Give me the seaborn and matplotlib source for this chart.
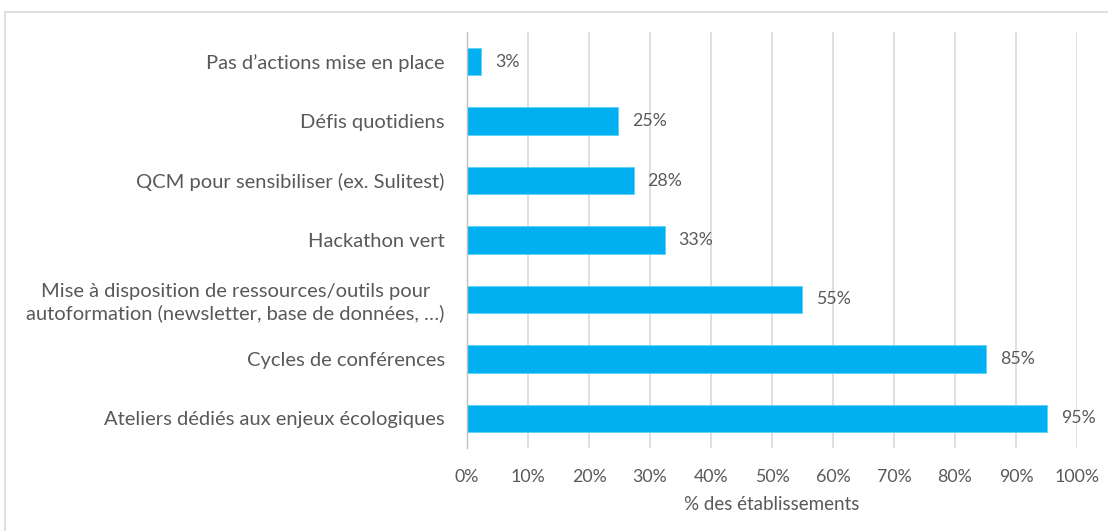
import matplotlib
matplotlib.use('Agg')
import matplotlib.pyplot as plt
from matplotlib.patches import Rectangle
from matplotlib.ticker import PercentFormatter, MultipleLocator, FixedLocator
import seaborn as sns
import pandas as pd

# data (top to bottom)
actions = ['Pas d’actions mise en place',
           'Défis quotidiens',
           'QCM pour sensibiliser (ex. Sulitest)',
           'Hackathon vert',
           'Mise à disposition de ressources/outils pour\nautoformation (newsletter, base de données, …)',
           'Cycles de conférences',
           'Ateliers dédiés aux enjeux écologiques']
share = [2.3, 24.8, 27.3, 32.4, 54.9, 85.1, 95.1]
share_labels = ['3%', '25%', '28%', '33%', '55%', '85%', '95%']

df = pd.DataFrame({'action': actions, 'share': share})

sns.set_theme(style='white')
plt.rcParams['font.family'] = ['Lato', 'DejaVu Sans']
txt = '#595959'
grid = '#D9D9D9'

fig = plt.figure(figsize=(11.08, 5.31), dpi=100)
ax = fig.add_axes([467/1108, 1-448/531, 610/1108, 416/531])

sns.barplot(data=df, y='action', x='share', orient='h', color='#00B0F0',
            saturation=1, width=0.46, edgecolor='#5FD0F8', linewidth=0.6, ax=ax)

ax.set_xlim(0, 100)
ax.set_ylim(6.5, -0.5)
ax.xaxis.set_major_locator(MultipleLocator(10))
ax.xaxis.set_major_formatter(PercentFormatter(decimals=0))
ax.grid(axis='x', color=grid, linewidth=1.2)
ax.set_axisbelow(True)
for s in ['top', 'right', 'bottom']:
    ax.spines[s].set_visible(False)
ax.spines['left'].set_color('#BFBFBF')
ax.spines['left'].set_linewidth(1.0)

ax.tick_params(axis='x', length=0, pad=15, labelsize=12.8, labelcolor=txt)
ax.tick_params(axis='y', which='major', length=0, pad=16, labelsize=14.5, labelcolor=txt)
ax.yaxis.set_minor_locator(FixedLocator([i - 0.5 for i in range(8)]))
ax.tick_params(axis='y', which='minor', length=6, color='#BFBFBF', width=1.0)
for lab in ax.get_yticklabels():
    lab.set_multialignment('center')
    lab.set_linespacing(1.25)

ax.bar_label(ax.containers[0], labels=share_labels, padding=10,
             fontsize=12.8, color=txt)

ax.set_ylabel('')
ax.set_xlabel('% des établissements', fontsize=13.5, color=txt, labelpad=8)

# light frame around the chart area
fig.patches.append(Rectangle((5/1108, -0.05), 1.2, 1-12/531+0.05,
                             transform=fig.transFigure, fill=False,
                             edgecolor='#D9D9D9', linewidth=1.2))

fig.savefig('out.png', dpi=100)
